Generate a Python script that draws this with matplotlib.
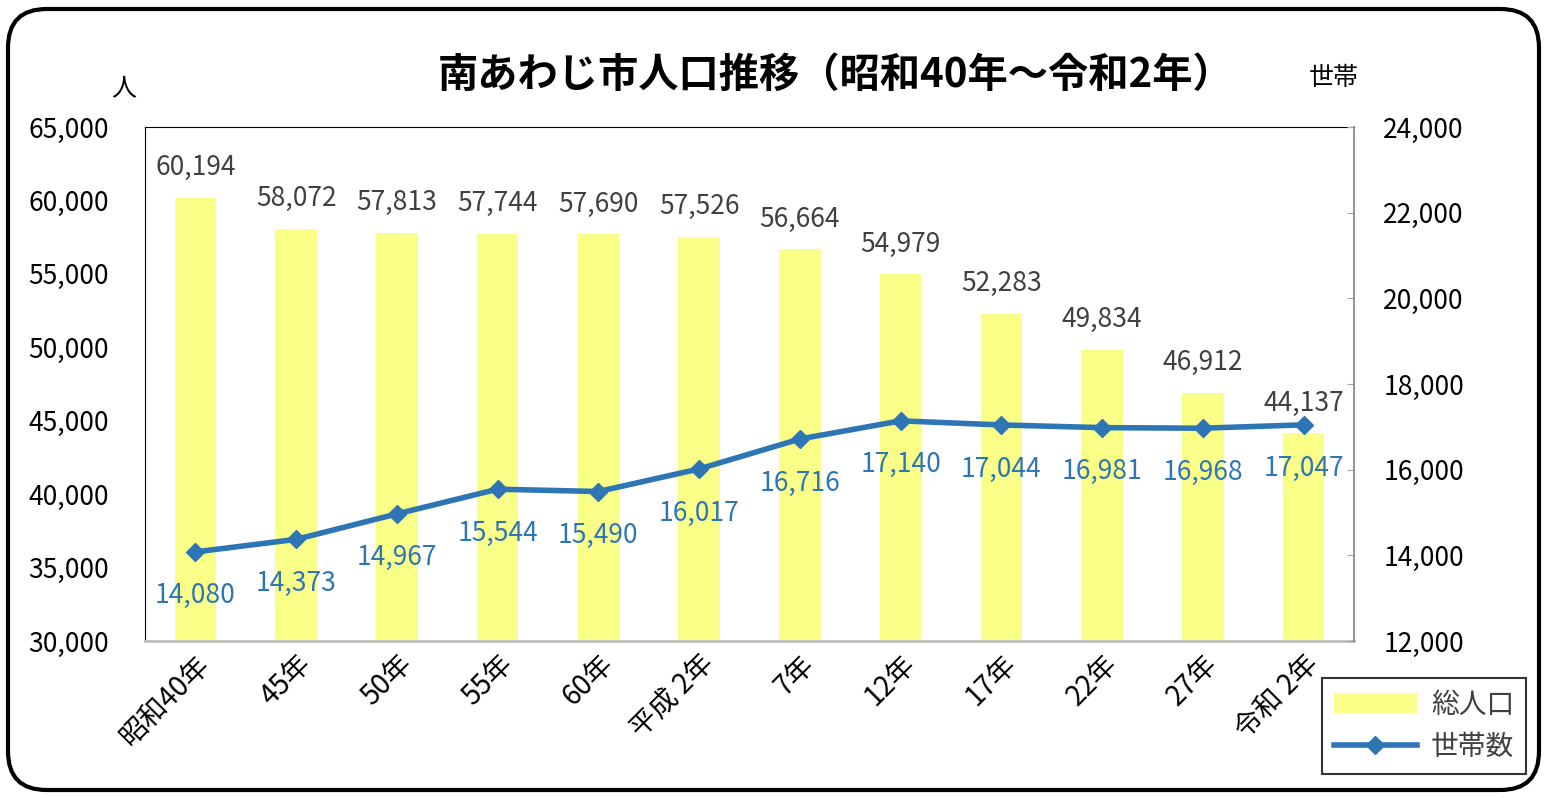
import matplotlib
matplotlib.use("Agg")
import matplotlib.pyplot as plt
from matplotlib.patches import FancyBboxPatch, Patch
from matplotlib.lines import Line2D
import numpy as np

plt.rcParams['font.family'] = ['Noto Sans CJK JP', 'DejaVu Sans']

categories = ["昭和40年", "45年", "50年", "55年", "60年", "平成 2年", "7年", "12年", "17年", "22年", "27年", "令和 2年"]
population = [60194, 58072, 57813, 57744, 57690, 57526, 56664, 54979, 52283, 49834, 46912, 44137]
households = [14080, 14373, 14967, 15544, 15490, 16017, 16716, 17140, 17044, 16981, 16968, 17047]
left_ticks = [30000, 35000, 40000, 45000, 50000, 55000, 60000, 65000]
right_ticks = [12000, 14000, 16000, 18000, 20000, 22000, 24000]

bar_color = "#FAFF88"
line_color = "#2E75B6"
label_gray = "#404040"

fig = plt.figure(figsize=(15.47, 7.98), dpi=100)
ax = fig.add_axes([145 / 1547, 1 - 641 / 798, 1209 / 1547, 514 / 798])
x = np.arange(len(categories))
ax.bar(x, population, width=0.41, color=bar_color, zorder=1)
ax.set_ylim(30000, 65000)
ax.set_xlim(-0.5, len(categories) - 0.5)
ax.set_yticks(left_ticks)
ax.set_yticklabels([f"{v:,}" for v in left_ticks], fontsize=19)
ax.tick_params(axis='y', length=0, pad=26)
ax.tick_params(axis='x', length=0, pad=6)
ax.set_xticks(x)
ax.set_xticklabels(categories, rotation=45, ha='right', va='top', rotation_mode='anchor', fontsize=20)
ax.spines['left'].set_color('black')
ax.spines['top'].set_color('black')
ax.spines['bottom'].set_color('#BFBFBF')
ax.spines['bottom'].set_linewidth(2)
ax.spines['right'].set_visible(False)

for xi, v in zip(x, population):
    ax.annotate(f"{v:,}", (xi, v), xytext=(0, 30), textcoords='offset pixels',
                ha='center', va='center', fontsize=19, color=label_gray)

ax2 = ax.twinx()
ax2.plot(x, households, color=line_color, lw=4, marker='D', markersize=9, zorder=3, solid_capstyle='round')
ax2.set_ylim(12000, 24000)
ax2.set_yticks(right_ticks)
ax2.set_yticklabels([f"{v:,}" for v in right_ticks], fontsize=19)
ax2.tick_params(axis='y', length=5, direction='in', color='#A6A6A6', pad=21)
for k in ['left', 'top', 'bottom']:
    ax2.spines[k].set_visible(False)
ax2.spines['right'].set_color('#808080')
ax2.spines['right'].set_linewidth(1.2)
for xi, v in zip(x, households):
    ax2.annotate(f"{v:,}", (xi, v), xytext=(0, -44), textcoords='offset pixels',
                 ha='center', va='center', fontsize=19, color=line_color)

fig.text(0.540, 0.905, "南あわじ市人口推移（昭和40年～令和2年）", ha='center', va='center',
         fontsize=29, fontweight='bold')
fig.text(0.862, 0.902, "世帯", ha='center', va='center', fontsize=18)
fig.text(0.080, 0.888, "人", ha='center', va='center', fontsize=18)

handles = [Patch(facecolor=bar_color, edgecolor='none'),
           Line2D([0], [0], color=line_color, lw=4, marker='D', markersize=9)]
leg = fig.legend(handles, ["総人口", "世帯数"], loc='upper left',
                 bbox_to_anchor=(1322 / 1547, 1 - 678 / 798), fontsize=20,
                 frameon=True, fancybox=False, edgecolor='black', handlelength=3.0,
                 borderpad=0.42, labelspacing=0.45, handletextpad=0.5, borderaxespad=0)
for t in leg.get_texts():
    t.set_color(label_gray)
leg.get_frame().set_linewidth(1.5)

border = FancyBboxPatch((8 / 1547, 8 / 798), 1531 / 1547, 781 / 798,
                        boxstyle="round,pad=0,rounding_size=0.025",
                        transform=fig.transFigure, fill=False, edgecolor='black', lw=3,
                        mutation_aspect=1547 / 798)
fig.patches.append(border)

fig.savefig("out.png", dpi=100)
